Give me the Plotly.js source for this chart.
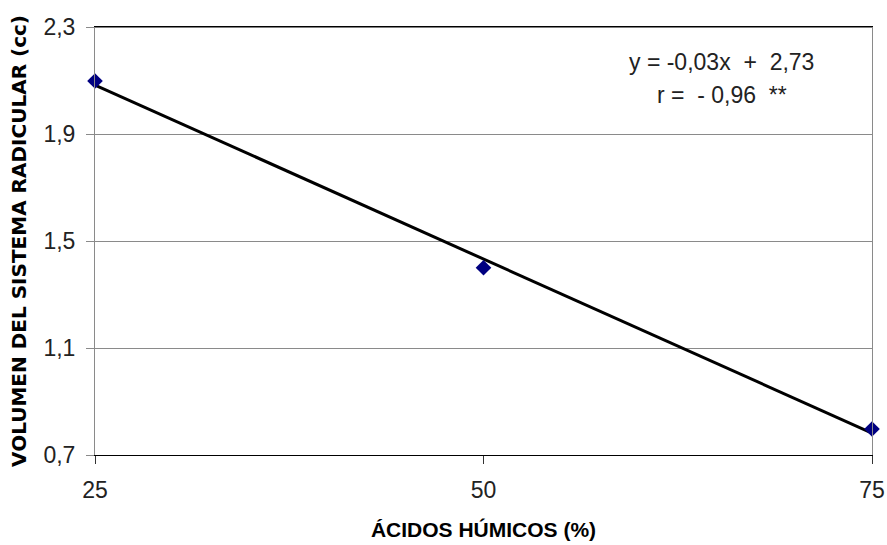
<!DOCTYPE html>
<html>
<head>
<meta charset="utf-8">
<script src="https://cdn.plot.ly/plotly-3.0.1.min.js"></script>
<style>html,body{margin:0;padding:0;background:#fff;}#chart{width:887px;height:545px;}</style>
</head>
<body>
<div id="chart"></div>
<script>
// Data
const acidosHumicos = [25, 50, 75];            // % humic acids
const volumenRadicular = [2.098, 1.400, 0.797]; // cc
const trendX = [25, 75];
const trendY = [2.083, 0.782];
const xTicks = [25, 50, 75];
const xTickLabels = ['25', '50', '75'];
const yTicks = [0.7, 1.1, 1.5, 1.9, 2.3];
const yTickLabels = ['0,7', '1,1', '1,5', '1,9', '2,3'];
const equationText = 'y&nbsp;= -0,03x&nbsp; +&nbsp; 2,73';
const rText = 'r&nbsp;=&nbsp; - 0,96&nbsp; **';

const traces = [
  {
    x: trendX, y: trendY, type: 'scatter', mode: 'lines',
    line: {color: '#000000', width: 3}, hoverinfo: 'skip', showlegend: false
  },
  {
    x: acidosHumicos, y: volumenRadicular, type: 'scatter', mode: 'markers',
    marker: {symbol: 'diamond', size: 12, color: '#000080'}, showlegend: false, cliponaxis: false
  }
];

const layout = {
  width: 887, height: 545,
  margin: {l: 95, r: 15, t: 27, b: 90},
  paper_bgcolor: '#ffffff', plot_bgcolor: '#ffffff',
  font: {family: 'Liberation Sans, Arial, sans-serif', color: '#222'},
  showlegend: false,
  xaxis: {
    range: [25, 75], tickmode: 'array', tickvals: xTicks, ticktext: xTickLabels,
    showgrid: false, zeroline: false,
    showline: true, linecolor: '#000000', linewidth: 1, mirror: true,
    ticks: 'outside', ticklen: 8, tickcolor: '#333', tickwidth: 1,
    tickfont: {size: 23, color: '#222'}, ticklabelstandoff: 6,
    title: {text: 'ÁCIDOS HÚMICOS (%)', font: {size: 21, color: '#000', family: 'Liberation Sans, Arial, sans-serif', weight: 'bold'}, standoff: 20}
  },
  yaxis: {
    range: [0.7, 2.3], tickmode: 'array', tickvals: yTicks, ticktext: yTickLabels,
    showgrid: true, gridcolor: '#8a8a8a', gridwidth: 1, zeroline: false,
    showline: true, linecolor: '#8a8a8a', linewidth: 1, mirror: true,
    ticks: 'outside', ticklen: 8, tickcolor: '#8a8a8a', tickwidth: 1,
    tickfont: {size: 23, color: '#222'}, ticklabelstandoff: 6,
    title: {text: 'VOLUMEN DEL SISTEMA RADICULAR (cc)', font: {size: 20, color: '#000', family: 'DejaVu Sans, Liberation Sans, sans-serif', weight: 'bold'}, standoff: 11}
  },
  shapes: [
    {type: 'line', xref: 'paper', yref: 'paper', x0: 0, x1: 1, y0: 1, y1: 1, line: {color: '#000', width: 1}}
  ],
  annotations: [
    {xref: 'paper', yref: 'paper', x: (721 - 95) / 777, y: 1 - (62 - 27) / 428, text: equationText, showarrow: false, xanchor: 'center', yanchor: 'middle', font: {size: 23, color: '#222'}},
    {xref: 'paper', yref: 'paper', x: (722 - 95) / 777, y: 1 - (95 - 27) / 428, text: rText, showarrow: false, xanchor: 'center', yanchor: 'middle', font: {size: 23, color: '#222'}}
  ]
};

Plotly.newPlot('chart', traces, layout, {displayModeBar: false, staticPlot: true});
</script>
</body>
</html>
